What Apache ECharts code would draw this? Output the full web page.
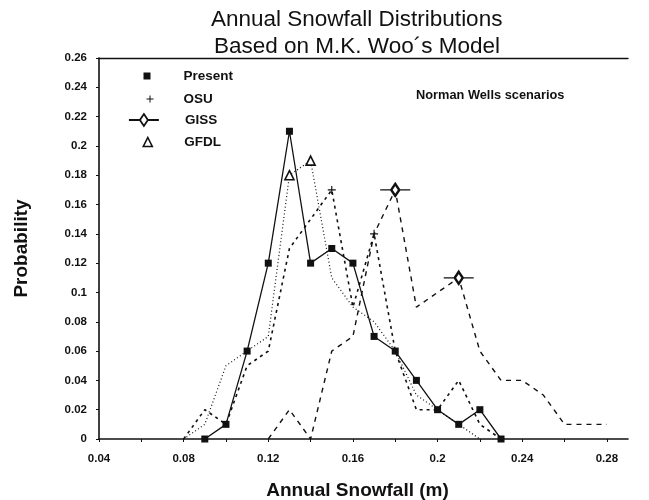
<!DOCTYPE html>
<html>
<head>
<meta charset="utf-8">
<script src="https://cdn.jsdelivr.net/npm/echarts@6/dist/echarts.min.js"></script>
<style>
html,body{margin:0;padding:0;background:#fff;}
#c{width:649px;height:500px;}
</style>
</head>
<body>
<div id="c"></div>
<script>
// ---- data ----
const presentX = [0.09,0.10,0.11,0.12,0.13,0.14,0.15,0.16,0.17,0.18,0.19,0.20,0.21,0.22,0.23];
const presentY = [0,0.01,0.06,0.12,0.21,0.12,0.13,0.12,0.07,0.06,0.04,0.02,0.01,0.02,0];

const osuX = [0.08,0.09,0.10,0.11,0.12,0.13,0.14,0.15,0.16,0.17,0.18,0.19,0.20,0.21,0.22,0.23];
const osuY = [0,0.02,0.01,0.05,0.06,0.13,0.15,0.17,0.09,0.14,0.06,0.02,0.02,0.04,0.01,0];

const gissX = [0.12,0.13,0.14,0.15,0.16,0.17,0.18,0.19,0.20,0.21,0.22,0.23,0.24,0.25,0.26,0.27,0.28];
const gissY = [0,0.02,0,0.06,0.07,0.14,0.17,0.09,0.10,0.11,0.06,0.04,0.04,0.03,0.01,0.01,0.01];

const gfdlX = [0.08,0.09,0.10,0.11,0.12,0.13,0.14,0.15,0.16,0.17,0.18,0.19,0.20,0.21,0.22];
const gfdlY = [0,0.01,0.05,0.06,0.07,0.18,0.19,0.11,0.09,0.08,0.06,0.03,0.02,0.01,0];

// x positions where the sparse markers are drawn
const osuMarks = [0.15,0.17];
const gissMarks = [0.18,0.21];
const gfdlMarks = [0.13,0.14];

const seriesNames = ['Present','OSU','GISS','GFDL'];
const titleLines = ['Annual Snowfall Distributions','Based on M.K. Woo´s Model'];
const noteText = 'Norman Wells scenarios';
const xName = 'Annual Snowfall (m)';
const yName = 'Probability';

// ---- styling ----
const INK = '#111';
const FONT = 'Liberation Sans, Arial, Helvetica, sans-serif';
const plusPath = 'path://M3,0 L4,0 L4,3 L7,3 L7,4 L4,4 L4,7 L3,7 L3,4 L0,4 L0,3 L3,3 Z';
const gissPath = 'path://M0,6 L11,6 M19,6 L30,6 M15,0 L19,6 L15,12 L11,6 Z';

function near(a,b){return Math.abs(a-b)<1e-6;}
function buildData(xs, ys, marks, symbol){
  return xs.map((x,i)=>({
    value:[x, ys[i]],
    symbol: marks.some(m=>near(m,x)) ? symbol : 'none'
  }));
}
function fmt(v){ return String(+v.toFixed(2)); }

const chart = echarts.init(document.getElementById('c'), null, {renderer:'canvas'});

const legendBase = {
  orient:'vertical', padding:0, selectedMode:false,
  textStyle:{fontFamily:FONT, fontWeight:'bold', fontSize:13.5, color:INK}
};

chart.setOption({
  animation:false,
  backgroundColor:'#fff',
  title:[
    {text:titleLines[0], left:206, top:3, textStyle:{fontFamily:FONT, fontSize:22.5, fontWeight:'normal', color:INK}},
    {text:titleLines[1], left:209, top:30, textStyle:{fontFamily:FONT, fontSize:22.5, fontWeight:'normal', color:INK}},
    {text:noteText, left:411, top:84, textStyle:{fontFamily:FONT, fontSize:12.8, fontWeight:'bold', color:INK}}
  ],
  legend:[
    Object.assign({}, legendBase, {left:143.5, top:69, itemWidth:7, itemHeight:7,
      data:[{name:'Present', icon:'rect', itemStyle:{color:INK}}],
      textStyle:Object.assign({}, legendBase.textStyle, {padding:[0,0,0,28]})}),
    Object.assign({}, legendBase, {left:146.5, top:92, itemWidth:7, itemHeight:7,
      data:[{name:'OSU', icon:plusPath, itemStyle:{color:INK}}],
      textStyle:Object.assign({}, legendBase.textStyle, {padding:[0,0,0,25]})}),
    Object.assign({}, legendBase, {left:128, top:113, itemWidth:30, itemHeight:12,
      data:[{name:'GISS', icon:gissPath, itemStyle:{color:'#fff', borderColor:INK, borderWidth:1.8}}],
      textStyle:Object.assign({}, legendBase.textStyle, {padding:[0,0,0,21]})}),
    Object.assign({}, legendBase, {left:142.5, top:135, itemWidth:9, itemHeight:9,
      data:[{name:'GFDL', icon:'triangle', itemStyle:{color:'#fff', borderColor:INK, borderWidth:1.6}}],
      textStyle:Object.assign({}, legendBase.textStyle, {padding:[0,0,0,27]})})
  ],
  grid:{left:99, right:21, top:58, bottom:61, containLabel:false, outerBoundsMode:'none'},
  xAxis:[{
    type:'value', min:0.04, max:0.29, interval:0.02,
    name:xName, nameLocation:'middle', nameGap:42, nameMoveOverlap:false,
    nameTextStyle:{fontFamily:FONT, fontSize:19, fontWeight:'bold', color:INK, padding:[0,12,0,0]},
    axisLine:{lineStyle:{color:INK, width:1.6}},
    axisTick:{show:true, length:3, lineStyle:{color:INK}},
    splitLine:{show:false},
    axisLabel:{fontFamily:FONT, fontSize:11.5, fontWeight:'bold', color:INK, margin:14, showMaxLabel:false,
      formatter:v=> (Math.round(v*100)%4===0 ? fmt(v) : '')}
  },{
    type:'value', position:'top', min:0.04, max:0.29,
    axisLine:{show:true, lineStyle:{color:INK, width:1.4}},
    axisTick:{show:false}, axisLabel:{show:false}, splitLine:{show:false}
  }],
  yAxis:{
    type:'value', min:0, max:0.26, interval:0.02,
    name:yName, nameLocation:'middle', nameGap:68, nameRotate:90, nameMoveOverlap:false,
    nameTextStyle:{fontFamily:FONT, fontSize:19, fontWeight:'bold', color:INK},
    axisLine:{show:true, lineStyle:{color:INK, width:1.6}},
    axisTick:{show:true, length:3, lineStyle:{color:INK}},
    splitLine:{show:false},
    axisLabel:{fontFamily:FONT, fontSize:11.5, fontWeight:'bold', color:INK, margin:12, formatter:fmt}
  },
  series:[
    {name:seriesNames[0], type:'line', data:presentX.map((x,i)=>[x,presentY[i]]),
      symbol:'rect', symbolSize:7, showAllSymbol:true,
      lineStyle:{color:INK, width:1.3}, itemStyle:{color:INK}, z:5},
    {name:seriesNames[1], type:'line', data:buildData(osuX, osuY, osuMarks, plusPath),
      symbolSize:8, showAllSymbol:true,
      lineStyle:{color:INK, width:1.6, type:[3,4]}, itemStyle:{color:INK}},
    {name:seriesNames[2], type:'line', data:buildData(gissX, gissY, gissMarks, gissPath),
      symbolSize:[30,12], showAllSymbol:true,
      lineStyle:{color:INK, width:1.4, type:[5,5]}, itemStyle:{color:'#fff', borderColor:INK, borderWidth:1.8}},
    {name:seriesNames[3], type:'line', data:buildData(gfdlX, gfdlY, gfdlMarks, 'triangle'),
      symbolSize:9, showAllSymbol:true,
      lineStyle:{color:INK, width:1.2, type:[1,2.5]}, itemStyle:{color:'#fff', borderColor:INK, borderWidth:1.6}}
  ]
});
</script>
</body>
</html>
